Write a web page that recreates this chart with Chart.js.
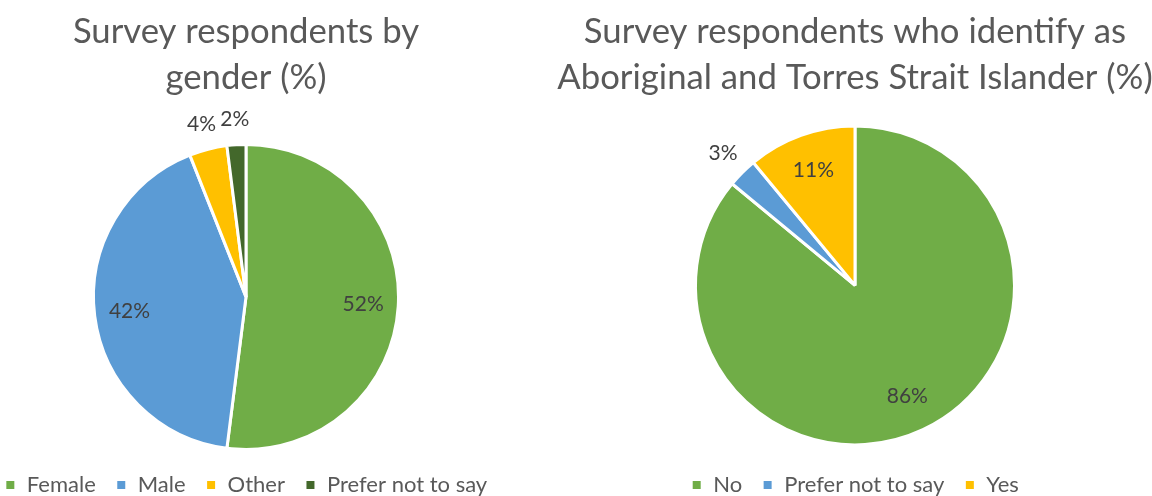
<!DOCTYPE html>
<html>
<head>
<meta charset="utf-8">
<title>Survey respondents</title>
<script src="https://cdn.jsdelivr.net/npm/chart.js@4.4.1/dist/chart.umd.min.js"></script>
<style>
  html, body { margin: 0; padding: 0; background: #fff; }
  body { width: 1152px; height: 496px; position: relative; overflow: hidden; }
  canvas { position: absolute; top: 0; }
  #genderChart { left: -22px; }
  #atsiChart { left: 555px; }
</style>
</head>
<body>
<canvas id="genderChart" width="536" height="506"></canvas>
<canvas id="atsiChart" width="600" height="506"></canvas>

<script>
// Gender breakdown (%)
const genderLabels = ["Female", "Male", "Other", "Prefer not to say"];
const genderValues = [52, 42, 4, 2];

// Aboriginal and Torres Strait Islander breakdown (%)
const atsiLabels = ["No", "Prefer not to say", "Yes"];
const atsiValues = [86, 3, 11];

const GREEN = "#70AD47";
const BLUE = "#5B9BD5";
const GOLD = "#FFC000";
const DARK_GREEN = "#43682B";

const FONT = "Lato, 'Open Sans', sans-serif";
const TEXT = "#595959";

// Draws "NN%" on each slice; small slices get their label just outside the pie
const pieLabels = {
  id: "pieLabels",
  afterDatasetsDraw(chart) {
    const ctx = chart.ctx;
    const data = chart.data.datasets[0].data;
    const total = data.reduce((a, b) => a + b, 0);
    const meta = chart.getDatasetMeta(0);
    ctx.save();
    ctx.font = "21px " + FONT;
    ctx.fillStyle = "#404040";
    ctx.textAlign = "center";
    ctx.textBaseline = "middle";
    meta.data.forEach((arc, i) => {
      const { x, y, startAngle, endAngle, outerRadius } = arc.getProps(
        ["x", "y", "startAngle", "endAngle", "outerRadius"], true);
      const mid = (startAngle + endAngle) / 2;
      const share = data[i] / total;
      const r = share < 0.05 ? outerRadius * 1.17 : outerRadius * 0.77;
      ctx.fillText(data[i] + "%", x + Math.cos(mid) * r, y + Math.sin(mid) * r);
    });
    ctx.restore();
  }
};

function makePie(id, labels, values, colors, title, radius, titleGap) {
  return new Chart(document.getElementById(id), {
    type: "pie",
    data: {
      labels: labels,
      datasets: [{
        data: values,
        backgroundColor: colors,
        borderColor: "#ffffff",
        borderWidth: 3,
        radius: radius
      }]
    },
    options: {
      responsive: false,
      animation: false,
      layout: { padding: 0 },
      plugins: {
        title: {
          display: true,
          text: title,
          color: TEXT,
          font: { family: FONT, size: 34.7, weight: "normal", lineHeight: 1.33 },
          padding: { top: 9, bottom: titleGap }
        },
        legend: {
          position: "bottom",
          labels: {
            color: TEXT,
            font: { family: FONT, size: 22 },
            boxWidth: 11,
            boxHeight: 11,
            padding: 20
          }
        },
        tooltip: { enabled: false }
      }
    },
    plugins: [pieLabels]
  });
}

makePie("genderChart", genderLabels, genderValues,
  [GREEN, BLUE, GOLD, DARK_GREEN],
  ["Survey respondents by", "gender (%)"], 152.5, 38.5);

makePie("atsiChart", atsiLabels, atsiValues,
  [GREEN, BLUE, GOLD],
  ["Survey respondents who identify as", "Aboriginal and Torres Strait Islander (%)"], 159.5, 15.5);
</script>
</body>
</html>
